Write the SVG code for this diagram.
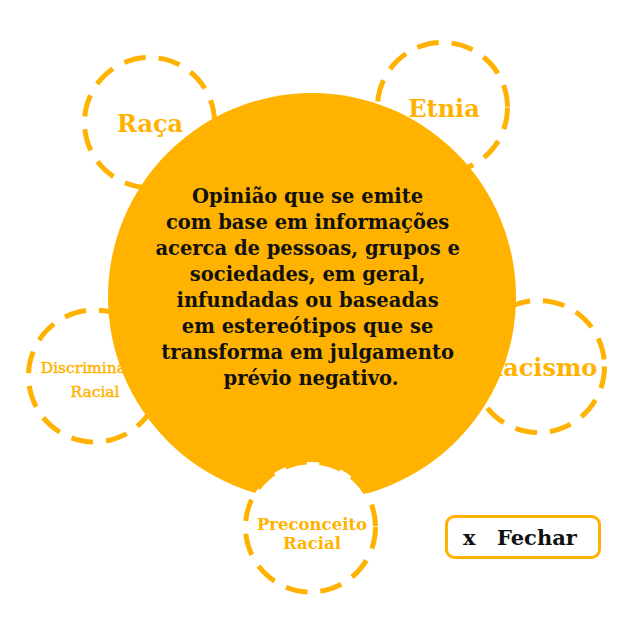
<svg xmlns="http://www.w3.org/2000/svg" width="634" height="634" viewBox="0 0 634 634">
<style>
.ring{fill:#fff;stroke:#FFB300;stroke-width:5;stroke-dasharray:22 13}
.lbl{font-family:"DejaVu Serif","Liberation Serif",serif;font-weight:bold;fill:#FFB300;text-anchor:middle}
.thin{font-weight:normal;stroke:#FFB300;stroke-width:0.45}
.main{font-family:"DejaVu Serif","Liberation Serif",serif;font-weight:bold;font-size:19.5px;fill:#111;text-anchor:middle}
</style>
<rect width="634" height="634" fill="#fff"/>
<g id="raca">
<circle class="ring" cx="149.5" cy="122.5" r="65"/>
<text class="lbl" x="150" y="132" font-size="24">Raça</text>
</g>
<g id="etnia">
<circle class="ring" cx="442.5" cy="107.5" r="65"/>
<text class="lbl" x="444" y="117" font-size="24">Etnia</text>
</g>
<g id="discriminacao">
<circle class="ring" cx="94.5" cy="376" r="66"/>
<text class="lbl thin" x="97" y="373" font-size="15.5">Discriminação</text>
<text class="lbl thin" x="95" y="397" font-size="15.5">Racial</text>
</g>
<g id="racismo">
<circle class="ring" cx="538.5" cy="366.5" r="66"/>
<text class="lbl" x="540" y="376" font-size="24">Racismo</text>
</g>
<g id="centro">
<circle cx="312" cy="297" r="204" fill="#FFB300"/>
<text class="main">
<tspan x="311" y="203">Opinião que se emite</tspan>
<tspan x="311" y="229">com base em informações</tspan>
<tspan x="311" y="255">acerca de pessoas, grupos e</tspan>
<tspan x="311" y="281">sociedades, em geral,</tspan>
<tspan x="311" y="307">infundadas ou baseadas</tspan>
<tspan x="311" y="333">em estereótipos que se</tspan>
<tspan x="311" y="359">transforma em julgamento</tspan>
<tspan x="311" y="385">prévio negativo.</tspan>
</text>
</g>
<g id="preconceito">
<circle class="ring" cx="310.5" cy="527" r="65"/>
<text class="lbl" font-size="16.5"><tspan x="312" y="530">Preconceito</tspan><tspan x="312" y="549">Racial</tspan></text>
</g>
<g id="fechar">
<rect x="446.5" y="516.5" width="153" height="41" rx="8" fill="#fff" stroke="#FFB300" stroke-width="3"/>
<text font-family="DejaVu Serif, Liberation Serif, serif" font-weight="bold" font-size="21" fill="#111"><tspan x="463" y="545">x</tspan><tspan x="497" y="545">Fechar</tspan></text>
</g>
</svg>
